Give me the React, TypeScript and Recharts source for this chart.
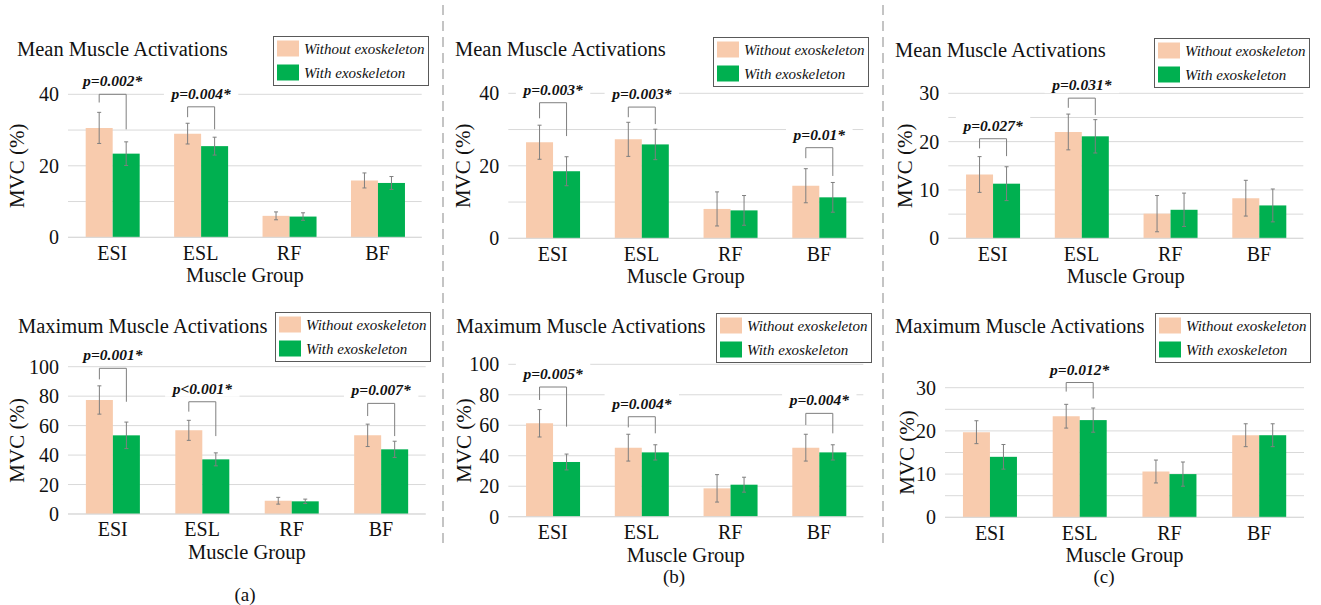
import React from "react";
import { BarChart, Bar, XAxis, YAxis, CartesianGrid, ErrorBar } from "recharts";

const FONT = "'Liberation Serif', 'Times New Roman', serif";
const COLOR_WITHOUT = "#F8CBAD";
const COLOR_WITH = "#00B050";
const GRID = "#d9d9d9";
const WHISKER = "#7f7f7f";

const muscles = ["ESI", "ESL", "RF", "BF"];
const seriesNames = ["Without exoskeleton", "With exoskeleton"];

const ticks40 = [0, 10, 20, 30, 40];
const labels40 = [0, 20, 40];
const ticks100 = [0, 20, 40, 60, 80, 100];
const labels100 = [0, 20, 40, 60, 80, 100];
const ticks30 = [0, 5, 10, 15, 20, 25, 30];
const labels30 = [0, 10, 20, 30];

type Sig = { muscle: string; p: string; top: number; left: number; right: number };

// (a) mean
const meanA_without = [30.6, 29.0, 6.0, 15.9];
const meanA_withoutErr = [4.35, 2.9, 1.1, 2.1];
const meanA_with = [23.4, 25.5, 5.8, 15.2];
const meanA_withErr = [3.3, 2.5, 1.05, 1.8];
const meanA_sig: Sig[] = [
  { muscle: "ESI", p: "p=0.002*", top: 40, left: 37.7, right: 30.2 },
  { muscle: "ESL", p: "p=0.004*", top: 36.5, left: 33.6, right: 30.2 },
];

// (a) maximum
const maxA_without = [77.4, 56.8, 9.0, 53.4];
const maxA_withoutErr = [9.6, 6.8, 2.3, 7.6];
const maxA_with = [53.4, 37.1, 8.6, 43.9];
const maxA_withErr = [9.0, 4.4, 1.5, 5.5];
const maxA_sig: Sig[] = [
  { muscle: "ESI", p: "p=0.001*", top: 98.9, left: 91.4, right: 76.2 },
  { muscle: "ESL", p: "p<0.001*", top: 76.2, left: 69.5, right: 52.9 },
  { muscle: "BF", p: "p=0.007*", top: 75.1, left: 66.5, right: 52.9 },
];

// (b) mean
const meanB_without = [26.5, 27.3, 8.1, 14.5];
const meanB_withoutErr = [4.7, 4.7, 4.7, 4.7];
const meanB_with = [18.5, 25.9, 7.7, 11.3];
const meanB_withErr = [4.0, 4.2, 4.1, 4.1];
const meanB_sig: Sig[] = [
  { muscle: "ESI", p: "p=0.003*", top: 37.4, left: 33.1, right: 28.2 },
  { muscle: "ESL", p: "p=0.003*", top: 36.2, left: 33.4, right: 31.5 },
  { muscle: "BF", p: "p=0.01*", top: 25.0, left: 22.1, right: 17.2 },
];

// (b) maximum
const maxB_without = [61.3, 45.3, 18.6, 45.3];
const maxB_withoutErr = [9.0, 8.8, 9.0, 8.8];
const maxB_with = [35.9, 42.2, 21.0, 42.2];
const maxB_withErr = [5.2, 5.0, 4.9, 5.0];
const maxB_sig: Sig[] = [
  { muscle: "ESI", p: "p=0.005*", top: 85.1, left: 76.6, right: 59.1 },
  { muscle: "ESL", p: "p=0.004*", top: 65.6, left: 58.6, right: 54.7 },
  { muscle: "BF", p: "p=0.004*", top: 67.8, left: 60.2, right: 54.7 },
];

// (c) mean
const meanC_without = [13.2, 22.0, 5.1, 8.3];
const meanC_withoutErr = [3.7, 3.7, 3.75, 3.7];
const meanC_with = [11.3, 21.1, 5.9, 6.8];
const meanC_withErr = [3.5, 3.45, 3.45, 3.4];
const meanC_sig: Sig[] = [
  { muscle: "ESI", p: "p=0.027*", top: 20.6, left: 18.6, right: 17.0 },
  { muscle: "ESL", p: "p=0.031*", top: 29.0, left: 27.0, right: 25.5 },
];

// (c) maximum
const maxC_without = [19.7, 23.4, 10.6, 19.0];
const maxC_withoutErr = [2.65, 2.75, 2.65, 2.65];
const maxC_with = [14.0, 22.5, 10.0, 19.0];
const maxC_withErr = [2.85, 2.8, 2.8, 2.65];
const maxC_sig: Sig[] = [
  { muscle: "ESL", p: "p=0.012*", top: 31.2, left: 29.1, right: 27.5 },
];

const panelTitles = ["Mean Muscle Activations", "Maximum Muscle Activations"];
const captions = ["(a)", "(b)", "(c)"];

type Panel = {
  title: string;
  col: number;
  top: number;
  height: number;
  plotLeft: number;
  plotRight: number;
  plotTop: number;
  plotBottom: number;
  yLabelX: number;
  titleX: number;
  titleY: number;
  legendX: number;
  legendY: number;
  ticks: number[];
  labels: number[];
  without: number[];
  withoutErr: number[];
  withExo: number[];
  withErr: number[];
  sig: Sig[];
};

const panels: Panel[] = [
  {
    title: panelTitles[0], col: 0, top: 0, height: 300,
    plotLeft: 68, plotRight: 421.7, plotTop: 94.3, plotBottom: 237.3,
    yLabelX: 17, titleX: 17, titleY: 56, legendX: 273, legendY: 36,
    ticks: ticks40, labels: labels40,
    without: meanA_without, withoutErr: meanA_withoutErr, withExo: meanA_with, withErr: meanA_withErr, sig: meanA_sig,
  },
  {
    title: panelTitles[1], col: 0, top: 300, height: 305,
    plotLeft: 68, plotRight: 425.7, plotTop: 366.7, plotBottom: 514,
    yLabelX: 17, titleX: 18, titleY: 333, legendX: 275, legendY: 312,
    ticks: ticks100, labels: labels100,
    without: maxA_without, withoutErr: maxA_withoutErr, withExo: maxA_with, withErr: maxA_withErr, sig: maxA_sig,
  },
  {
    title: panelTitles[0], col: 440, top: 0, height: 300,
    plotLeft: 508.3, plotRight: 863.3, plotTop: 93.3, plotBottom: 238.3,
    yLabelX: 463, titleX: 455, titleY: 56, legendX: 713, legendY: 37,
    ticks: ticks40, labels: labels40,
    without: meanB_without, withoutErr: meanB_withoutErr, withExo: meanB_with, withErr: meanB_withErr, sig: meanB_sig,
  },
  {
    title: panelTitles[1], col: 440, top: 300, height: 305,
    plotLeft: 508.3, plotRight: 863.3, plotTop: 364.3, plotBottom: 516.7,
    yLabelX: 463.5, titleX: 456, titleY: 333, legendX: 716, legendY: 313,
    ticks: ticks100, labels: labels100,
    without: maxB_without, withoutErr: maxB_withoutErr, withExo: maxB_with, withErr: maxB_withErr, sig: maxB_sig,
  },
  {
    title: panelTitles[0], col: 880, top: 0, height: 300,
    plotLeft: 948.3, plotRight: 1303.3, plotTop: 93.3, plotBottom: 238.3,
    yLabelX: 905, titleX: 895, titleY: 57, legendX: 1154, legendY: 38,
    ticks: ticks30, labels: labels30,
    without: meanC_without, withoutErr: meanC_withoutErr, withExo: meanC_with, withErr: meanC_withErr, sig: meanC_sig,
  },
  {
    title: panelTitles[1], col: 880, top: 300, height: 305,
    plotLeft: 945, plotRight: 1304, plotTop: 387.7, plotBottom: 517.3,
    yLabelX: 906.5, titleX: 895, titleY: 333, legendX: 1155, legendY: 313,
    ticks: ticks30, labels: labels30,
    without: maxC_without, withoutErr: maxC_withoutErr, withExo: maxC_with, withErr: maxC_withErr, sig: maxC_sig,
  },
];

const CHART_W = 440;
const X_AXIS_H = 46;
const TEXT = "#111";

// "with" bar that also draws the significance bracket spanning both bars of its group
function SigBar(props: any) {
  const { x, y, width, height, fill, payload } = props;
  const bar = <rect x={x} y={y} width={width} height={height} fill={fill} />;
  const sig: Sig | undefined = payload && payload.sig;
  if (!sig || !payload.withExo) return bar;
  const base = y + height;
  const k = height / payload.withExo;
  const py = (v: number) => base - v * k;
  const lx = x - width / 2;
  const rx = x + width / 2;
  const ty = py(sig.top);
  const cx = (lx + rx) / 2;
  const tw = sig.p.length * 7.8;
  return (
    <g>
      {bar}
      <rect x={cx - tw / 2 - 6} y={ty - 24} width={tw + 12} height={19} fill="#fff" />
      <path
        d={`M${lx},${py(sig.left)}V${ty}H${rx}V${py(sig.right)}`}
        fill="none"
        stroke={WHISKER}
        strokeWidth={1}
      />
      <text
        x={cx}
        y={ty - 8}
        textAnchor="middle"
        style={{ fontFamily: FONT, fontSize: 15.5, fontStyle: "italic", fontWeight: "bold" }}
        fill={TEXT}
      >
        {sig.p}
      </text>
    </g>
  );
}

function MusclePanel({ p }: { p: Panel }) {
  const rows = muscles.map((m, i) => ({
    muscle: m,
    without: p.without[i],
    withoutErr: p.withoutErr[i],
    withExo: p.withExo[i],
    withErr: p.withErr[i],
    sig: p.sig.find((s) => s.muscle === m),
  }));
  const margin = {
    top: p.plotTop - p.top,
    right: p.col + CHART_W - p.plotRight,
    bottom: p.top + p.height - p.plotBottom - X_AXIS_H,
    left: 0,
  };
  const ymax = p.ticks[p.ticks.length - 1];
  return (
    <div style={{ position: "absolute", left: p.col, top: p.top }}>
      <BarChart
        width={CHART_W}
        height={p.height}
        data={rows}
        margin={margin}
        barCategoryGap="20%"
        barGap={0}
      >
        <CartesianGrid vertical={false} stroke={GRID} />
        <XAxis
          dataKey="muscle"
          interval={0}
          height={X_AXIS_H}
          tickLine={false}
          tickSize={0}
          tickMargin={8}
          axisLine={{ stroke: GRID }}
          tick={{ fontSize: 20, fontFamily: FONT, fill: TEXT }}
          label={{
            value: "Muscle Group",
            position: "insideBottom",
            offset: 1,
            fill: TEXT,
            style: { fontFamily: FONT, fontSize: 20.5 },
          }}
        />
        <YAxis
          type="number"
          domain={[0, ymax]}
          ticks={p.ticks}
          interval={0}
          width={p.plotLeft - p.col}
          tickLine={false}
          axisLine={false}
          tickSize={6}
          tickMargin={3}
          tickFormatter={(v: number) => (p.labels.includes(v) ? String(v) : "")}
          tick={{ fontSize: 20, fontFamily: FONT, fill: TEXT }}
          label={{
            value: "MVC (%)",
            angle: -90,
            position: "insideLeft",
            offset: p.yLabelX - p.col,
            fill: TEXT,
            style: { textAnchor: "middle", fontFamily: FONT, fontSize: 21 },
          }}
        />
        <Bar dataKey="without" name={seriesNames[0]} fill={COLOR_WITHOUT} isAnimationActive={false}>
          <ErrorBar dataKey="withoutErr" width={2} stroke={WHISKER} strokeWidth={1} />
        </Bar>
        <Bar dataKey="withExo" name={seriesNames[1]} fill={COLOR_WITH} shape={SigBar} isAnimationActive={false}>
          <ErrorBar dataKey="withErr" width={2} stroke={WHISKER} strokeWidth={1} />
        </Bar>
      </BarChart>
    </div>
  );
}

function LegendBox({ x, y }: { x: number; y: number }) {
  const colors = [COLOR_WITHOUT, COLOR_WITH];
  return (
    <g>
      <rect x={x + 0.5} y={y + 0.5} width={155} height={49} fill="#fff" stroke="#595959" strokeWidth={1} />
      {seriesNames.map((name, i) => {
        const cy = y + 12.5 + i * 24;
        return (
          <g key={name}>
            <rect x={x + 4} y={cy - 8} width={22} height={16} fill={colors[i]} />
            <text
              x={x + 31}
              y={cy + 5}
              style={{ fontFamily: FONT, fontSize: 15, fontStyle: "italic" }}
              fill={TEXT}
            >
              {name}
            </text>
          </g>
        );
      })}
    </g>
  );
}

export default function App() {
  return (
    <div style={{ position: "absolute", left: 0, top: 0, width: 1321, height: 605, background: "#fff", overflow: "hidden" }}>
      {panels.map((p, i) => (
        <MusclePanel key={i} p={p} />
      ))}
      <svg width={1321} height={605} style={{ position: "absolute", left: 0, top: 0, pointerEvents: "none" }}>
        <line x1={443} y1={5} x2={443} y2={545} stroke="#c4c4c4" strokeWidth={2} strokeDasharray="10 6" />
        <line x1={883} y1={5} x2={883} y2={545} stroke="#c4c4c4" strokeWidth={2} strokeDasharray="10 6" />
        {panels.map((p, i) => (
          <g key={i}>
            <text x={p.titleX} y={p.titleY} style={{ fontFamily: FONT, fontSize: 20.5 }} fill={TEXT}>
              {p.title}
            </text>
            <LegendBox x={p.legendX} y={p.legendY} />
          </g>
        ))}
        <text x={245} y={601} textAnchor="middle" style={{ fontFamily: FONT, fontSize: 19 }} fill={TEXT}>{captions[0]}</text>
        <text x={674} y={583} textAnchor="middle" style={{ fontFamily: FONT, fontSize: 19 }} fill={TEXT}>{captions[1]}</text>
        <text x={1104} y={583} textAnchor="middle" style={{ fontFamily: FONT, fontSize: 19 }} fill={TEXT}>{captions[2]}</text>
      </svg>
    </div>
  );
}
